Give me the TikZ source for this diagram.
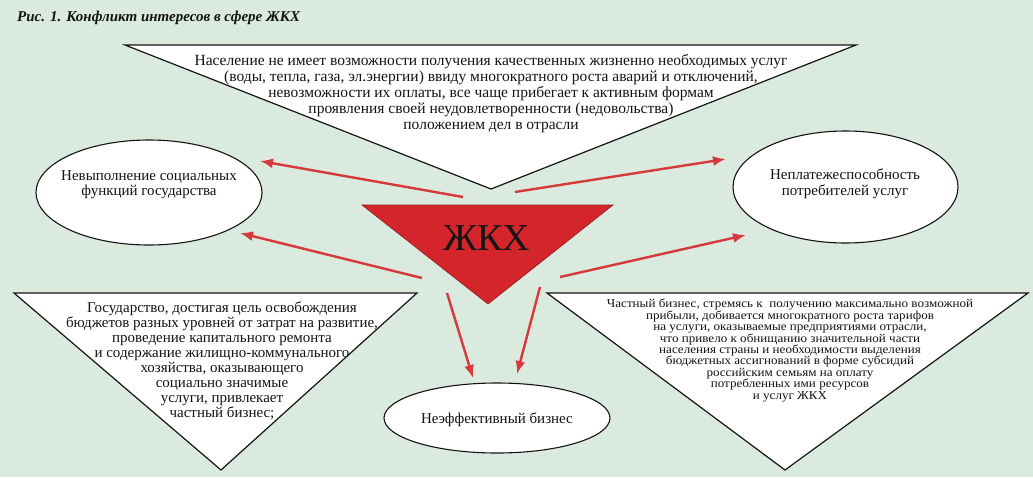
\documentclass[tikz,border=0pt]{standalone}
\usepackage{fontspec}
\setmainfont{Liberation Serif}
\usetikzlibrary{shapes.geometric,arrows.meta}
\definecolor{bg}{HTML}{DAEADE}
\definecolor{zred}{HTML}{D4252C}
\definecolor{ared}{HTML}{D6393B}
\definecolor{ink}{HTML}{141414}
\tikzset{
  shapeline/.style={draw=ink, line width=1.2pt, fill=white, line join=miter},
  oval/.style={ellipse, draw=ink, line width=1.1pt, fill=white, inner sep=0pt},
  redarrow/.style={draw=ared, line width=2.4pt, -{Latex[length=13pt,width=10pt]}},
  txt/.style={align=center, text=ink, inner sep=0pt},
}
\begin{document}
\begin{tikzpicture}[x=1pt,y=-1pt]
\path[fill=bg] (0,0) rectangle (1033,477);
\useasboundingbox (0,0) rectangle (1033,477);

% title
\node[anchor=west, text=ink, inner sep=0pt, font=\fontsize{15}{17}\selectfont\bfseries\itshape] (title) at (17,18)
  {Рис. 1. Конфликт интересов в сфере ЖКХ};

% top triangle
\draw[shapeline] (125,45) -- (856,45) -- (491,189) -- cycle;
\node[txt, font=\fontsize{15.5}{16}\selectfont] (toptext) at (491,94) {
Население не имеет возможности получения качественных жизненно необходимых услуг\\
(воды, тепла, газа, эл.энергии) ввиду многократного роста аварий и отключений,\\
невозможности их оплаты, все чаще прибегает к активным формам\\
проявления своей неудовлетворенности (недовольства)\\
положением дел в отрасли};

% bottom-left triangle
\draw[shapeline] (14,293) -- (417,293) -- (221,470) -- cycle;
\node[txt, font=\fontsize{15}{15}\selectfont] (bltext) at (222,360.5) {
Государство, достигая цель освобождения\\
бюджетов разных уровней от затрат на развитие,\\
проведение капитального ремонта\\
и содержание жилищно-коммунального\\
хозяйства, оказывающего\\
социально значимые\\
услуги, привлекает\\
частный бизнес;};

% bottom-right triangle
\draw[shapeline] (547,293) -- (1028,293) -- (785,470) -- cycle;
\node[txt, font=\fontsize{12}{11.4}\selectfont\addfontfeature{FakeStretch=1.09}] (brtext) at (790,350.5) {
Частный бизнес, стремясь к\ \ получению максимально возможной\\
прибыли, добивается многократного роста тарифов\\
на услуги, оказываемые предприятиями отрасли,\\
что привело к обнищанию значительной части\\
населения страны и необходимости выделения\\
бюджетных ассигнований в форме субсидий\\
российским семьям на оплату\\
потребленных ими ресурсов\\
и услуг ЖКХ};

% central red triangle
\draw[fill=zred, draw=zred!70!black, line width=0.6pt] (362,205) -- (613,205) -- (488,304) -- cycle;
\node[txt, font=\fontsize{38}{40}\selectfont] (zkh) at (487,238) {ЖКХ};

% ellipses
\node[oval, minimum width=226pt, minimum height=105pt] (lell) at (149,192.5) {};
\node[txt, font=\fontsize{15}{15.5}\selectfont] (lelltext) at (149,184.5) {Невыполнение социальных\\функций государства};

\node[oval, minimum width=225pt, minimum height=112pt] (rell) at (845.5,187) {};
\node[txt, font=\fontsize{15}{16.5}\selectfont] (relltext) at (845,183.5) {Неплатежеспособность\\потребителей услуг};

\node[oval, minimum width=226pt, minimum height=70pt] (bell) at (497,418) {};
\node[txt, font=\fontsize{15}{16}\selectfont] (belltext) at (497,420) {Неэффективный бизнес};

% arrow end points
\coordinate (a1s) at (463,197); \coordinate (a1e) at (260,161);
\coordinate (a2s) at (422,278); \coordinate (a2e) at (240,233);
\coordinate (a3s) at (515,192); \coordinate (a3e) at (726,159);
\coordinate (a4s) at (560,277); \coordinate (a4e) at (746,235);
\coordinate (a5s) at (447,293); \coordinate (a5e) at (473,378);
\coordinate (a6s) at (540,287); \coordinate (a6e) at (517,374);

\draw[redarrow] (a1s) -- (a1e);
\draw[redarrow] (a2s) -- (a2e);
\draw[redarrow] (a3s) -- (a3e);
\draw[redarrow] (a4s) -- (a4e);
\draw[redarrow] (a5s) -- (a5e);
\draw[redarrow] (a6s) -- (a6e);
\end{tikzpicture}
\end{document}
